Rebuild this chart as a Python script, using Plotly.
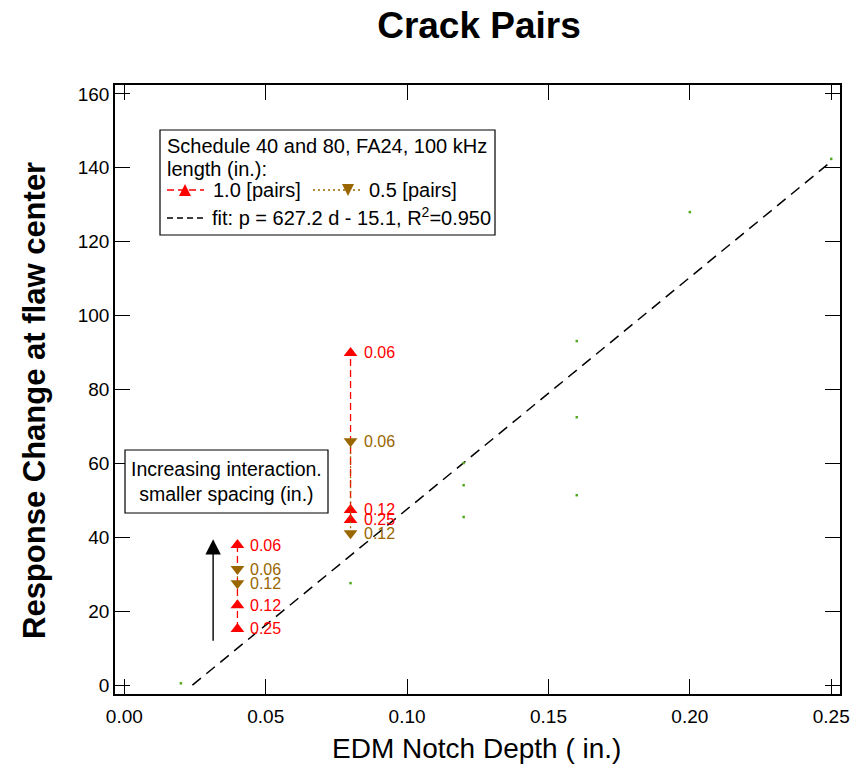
import plotly.graph_objects as go

# ---- data -------------------------------------------------------------
# crack pairs, 1.0 in. long flaws (None breaks the line between depths)
red_depth = [0.04, 0.04, 0.04, None, 0.08, 0.08, 0.08]
red_resp = [15.2, 21.6, 37.9, None, 44.7, 47.4, 89.9]
red_spacing = ["0.25", "0.12", "0.06", "", "0.25", "0.12", "0.06"]

# crack pairs, 0.5 in. long flaws
brown_depth = [0.04, 0.04, None, 0.08, 0.08]
brown_resp = [27.6, 31.4, None, 41.1, 66.0]
brown_spacing = ["0.12", "0.06", "", "0.12", "0.06"]

# single-flaw reference points used for the fit
single_depth = [0.02, 0.04, 0.08, 0.12, 0.12, 0.12, 0.16, 0.16, 0.16, 0.20, 0.25]
single_resp = [0.5, 15.5, 27.6, 45.5, 54.1, 60.1, 51.4, 72.5, 93.1, 128.0, 142.4]

# linear fit p = slope * d + intercept
fit_slope = 627.2
fit_intercept = -15.1
fit_r2 = 0.950
fit_depth = [-fit_intercept / fit_slope, 0.25]
fit_resp = [fit_slope * d + fit_intercept for d in fit_depth]

# interaction arrow (tail -> head)
arrow_depth = 0.0314
arrow_tail = 11.6
arrow_head = 39.5

x_ticks = [0.00, 0.05, 0.10, 0.15, 0.20, 0.25]
y_ticks = [0, 20, 40, 60, 80, 100, 120, 140, 160]

RED = "#FF0000"
BROWN = "#996600"
GREEN = "#55AA22"
FONT = "Arial, Liberation Sans, sans-serif"

# ---- plot area geometry (pixels) --------------------------------------
W, H = 862, 767
L, R, T, B = 115, 840, 85, 694


def px(xp):
    return (xp - L) / (R - L)


def py(yp):
    return (B - yp) / (B - T)


fig = go.Figure()

fig.add_trace(go.Scatter(
    x=fit_depth, y=fit_resp, mode="lines",
    line=dict(color="black", width=1.5, dash="11px,7px"),
    hoverinfo="skip", showlegend=False,
))

fig.add_trace(go.Scatter(
    x=single_depth, y=single_resp, mode="markers",
    marker=dict(color=GREEN, size=2.5, symbol="square"),
    showlegend=False,
))

fig.add_trace(go.Scatter(
    x=red_depth, y=red_resp, mode="lines+markers",
    line=dict(color=RED, width=1.3, dash="7px,4px"),
    marker=dict(color=RED, size=12, symbol="triangle-up"),
    connectgaps=False, showlegend=False,
))

fig.add_trace(go.Scatter(
    x=brown_depth, y=brown_resp, mode="lines+markers",
    line=dict(color=BROWN, width=1.3, dash="2px,3px"),
    marker=dict(color=BROWN, size=12, symbol="triangle-down"),
    connectgaps=False, showlegend=False,
))

shapes = []
annotations = []

# spacing labels next to each pair marker
for xs, ys, labels, color in ((red_depth, red_resp, red_spacing, RED),
                              (brown_depth, brown_resp, brown_spacing, BROWN)):
    for xv, yv, lab in zip(xs, ys, labels):
        if xv is None or not lab:
            continue
        annotations.append(dict(x=xv, y=yv, xref="x", yref="y", text=lab,
                                showarrow=False, xanchor="left", yanchor="middle",
                                xshift=11, font=dict(size=16, family=FONT, color=color)))

# legend box
shapes.append(dict(type="rect", xref="paper", yref="paper",
                   x0=px(160), x1=px(495), y0=py(235), y1=py(130),
                   line=dict(color="black", width=1.2), fillcolor="white",
                   layer="below"))


def legend_text(x, y, text):
    annotations.append(dict(xref="paper", yref="paper", x=px(x), y=py(y),
                            xanchor="left", yanchor="middle", showarrow=False,
                            text=text, font=dict(size=20, family=FONT, color="black")))


def tri(cx, cy, up, color, s=6):
    if up:
        path = (f"M {px(cx - s)} {py(cy + s)} L {px(cx + s)} {py(cy + s)} "
                f"L {px(cx)} {py(cy - s)} Z")
    else:
        path = (f"M {px(cx - s)} {py(cy - s)} L {px(cx + s)} {py(cy - s)} "
                f"L {px(cx)} {py(cy + s)} Z")
    shapes.append(dict(type="path", xref="paper", yref="paper", path=path,
                       fillcolor=color, line=dict(color=color, width=0)))


def seg(x0, x1, y, color, dash, width=1.3):
    shapes.append(dict(type="line", xref="paper", yref="paper",
                       x0=px(x0), x1=px(x1), y0=py(y), y1=py(y),
                       line=dict(color=color, width=width, dash=dash)))


legend_text(165, 146, "Schedule 40 and 80, FA24, 100 kHz")
legend_text(165, 169, "length (in.):")
seg(167, 204, 190, RED, "7px,4px")
tri(185, 190, True, RED)
legend_text(211, 190, "1.0 [pairs]")
seg(313, 363, 190, BROWN, "2px,3px")
tri(348, 190, False, BROWN)
legend_text(367, 190, "0.5 [pairs]")
seg(167, 204, 218, "black", "6px,4px", 1.5)
legend_text(210, 217, f"fit: p = {fit_slope} d - {abs(fit_intercept)}, "
            f"R<sup>2</sup>={fit_r2:.3f}")

# interaction note
shapes.append(dict(type="rect", xref="paper", yref="paper",
                   x0=px(125), x1=px(328), y0=py(513), y1=py(450),
                   line=dict(color="black", width=1.2), fillcolor="white"))
annotations.append(dict(xref="paper", yref="paper", x=px(226.5), y=py(481),
                        xanchor="center", yanchor="middle", showarrow=False,
                        text="Increasing interaction.<br>smaller spacing (in.)",
                        font=dict(size=19.5, family=FONT, color="black")))

annotations.append(dict(x=arrow_depth, y=arrow_head, ax=arrow_depth, ay=arrow_tail,
                        xref="x", yref="y", axref="x", ayref="y", text="",
                        showarrow=True, arrowhead=2, arrowsize=2.2,
                        arrowwidth=1.4, arrowcolor="black"))

# axis titles
annotations.append(dict(xref="paper", yref="paper", x=px(476.5), y=py(748),
                        xanchor="center", yanchor="middle", showarrow=False,
                        text="EDM Notch Depth ( in.)",
                        font=dict(size=28, family=FONT, color="black")))
annotations.append(dict(xref="paper", yref="paper", x=px(34), y=py(401),
                        xanchor="center", yanchor="middle", showarrow=False,
                        textangle=-90,
                        text="<b>Response Change at flaw center</b>",
                        font=dict(size=31, family=FONT, color="black")))

axis_common = dict(
    showline=True, linecolor="black", linewidth=1.5, mirror="allticks",
    ticks="inside", ticklen=15, tickwidth=1.3, tickcolor="black",
    showgrid=False, zeroline=False,
    tickfont=dict(size=19, family=FONT, color="black"),
)

fig.update_layout(
    width=W, height=H,
    margin=dict(l=L, r=W - R, t=T, b=H - B, autoexpand=False),
    paper_bgcolor="white", plot_bgcolor="white",
    title=dict(text="<b>Crack Pairs</b>", x=px(479), xref="paper", xanchor="center",
               y=1 - 25 / H, yref="container", yanchor="middle",
               font=dict(size=37, family=FONT, color="black")),
    xaxis=dict(range=[-0.0033, 0.2531], tickvals=x_ticks, ticklabelstandoff=4,
               ticktext=[f"{v:.2f}" for v in x_ticks], **axis_common),
    yaxis=dict(range=[-2.4, 162.4], tickvals=y_ticks,
               ticktext=[str(v) for v in y_ticks], **axis_common),
    shapes=shapes, annotations=annotations, showlegend=False,
)

fig.write_html("out.html")
